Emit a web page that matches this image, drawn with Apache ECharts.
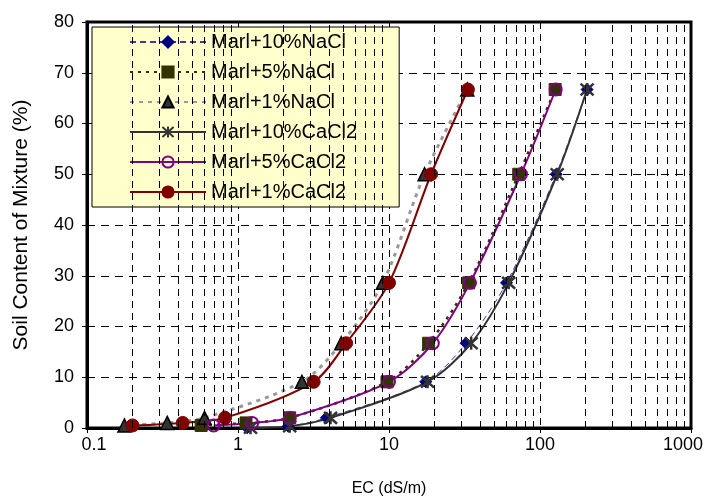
<!DOCTYPE html>
<html>
<head>
<meta charset="utf-8">
<script src="https://cdn.jsdelivr.net/npm/echarts@6/dist/echarts.min.js"></script>
<style>html,body{margin:0;padding:0;background:#fff;}#c{width:712px;height:502px;}</style>
</head>
<body>
<div id="c"></div>
<script>
const seriesNames = ['Marl+10%NaCl','Marl+5%NaCl','Marl+1%NaCl','Marl+10%CaCl2','Marl+5%CaCl2','Marl+1%CaCl2'];
const soilContent = [0.5, 1, 2, 9.1, 16.7, 28.6, 50, 66.7];
const soilContent10 = [0.05, 0.35, 2, 9.1, 16.7, 28.6, 50, 66.7];
const ecNaCl10 = [1.15, 2.15, 3.85, 17.5, 32.4, 60, 128, 205];
const ecNaCl5 = [0.57, 1.13, 2.2, 9.7, 18.3, 33.7, 72.3, 126];
const ecNaCl1 = [0.177, 0.34, 0.60, 2.65, 4.83, 9.1, 17.2, 33];
const ecCaCl10 = [1.21, 2.2, 4.1, 18, 35, 62, 130, 205];
const ecCaCl5 = [0.69, 1.24, 2.2, 10.0, 19.5, 34.4, 74.8, 127];
const ecCaCl1 = [0.2, 0.43, 0.82, 3.17, 5.2, 10.0, 19.0, 33.3];
const minorGridX = [0.2,0.3,0.4,0.5,0.6,0.7,0.8,0.9,2,3,4,5,6,7,8,9,20,30,40,50,60,70,80,90,200,300,400,500,600,700,800,900];

function pairs(xs, ys){ return xs.map((x,i)=>[x, ys[i]]); }

const asterisk = 'path://M5,0L5,10M0.5,0.5L9.5,9.5M9.5,0.5L0.5,9.5';
const font = 'Liberation Sans, Arial, sans-serif';

const chart = echarts.init(document.getElementById('c'), null, {renderer:'canvas'});
chart.setOption({
  animation: false,
  backgroundColor: '#fff',
  textStyle: {fontFamily: font},
  grid: {left: 87, right: 21, top: 22, bottom: 72, show: true, borderColor: '#000', borderWidth: 3, backgroundColor: 'transparent', containLabel: false},
  legend: {
    orient: 'vertical', left: 92, top: 27,
    backgroundColor: '#FFFFCC', borderColor: '#000', borderWidth: 1,
    padding: [5, 42, 5, 37],
    itemWidth: 76, itemHeight: 14, itemGap: 10,
    textStyle: {fontSize: 20, lineHeight: 20, color: '#000', fontFamily: font},
    data: seriesNames
  },
  xAxis: {
    type: 'log', logBase: 10, min: 0.1, max: 1000,
    name: 'EC (dS/m)', nameLocation: 'middle', nameGap: 53,
    nameTextStyle: {fontSize: 16, color: '#000', fontFamily: font},
    axisLine: {show: true, onZero: false, lineStyle: {color: '#000', width: 3}},
    axisTick: {show: true, length: 5, lineStyle: {color: '#000'}},
    axisLabel: {fontSize: 18, color: '#000', margin: 8,
      formatter: v => {
        const s = String(+v.toPrecision(6));
        if (Math.abs(v - 0.1) < 1e-9) return '{l|' + s + '}';
        if (Math.abs(v - 1000) < 1e-6) return '{r|' + s + '}';
        return s;
      },
      rich: {
        l: {fontSize: 18, color: '#000', fontFamily: font, padding: [0, 0, 0, 14]},
        r: {fontSize: 18, color: '#000', fontFamily: font, padding: [0, 16, 0, 0]}
      }},
    splitLine: {show: true, lineStyle: {color: '#000', type: [7,5], width: 1}},
    minorTick: {show: false}
  },
  yAxis: {
    type: 'value', min: 0, max: 80, interval: 10,
    name: 'Soil Content of Mixture (%)', nameLocation: 'middle', nameGap: 55,
    nameTextStyle: {fontSize: 21, color: '#000', fontFamily: font},
    axisLine: {show: true, lineStyle: {color: '#000', width: 3}},
    axisTick: {show: true, length: 5, lineStyle: {color: '#000'}},
    axisLabel: {fontSize: 18, color: '#000', margin: 13},
    splitLine: {show: true, lineStyle: {color: '#000', type: [8,6], width: 1}}
  },
  series: [
    {name: seriesNames[0], type: 'line', smooth: 0.3, data: pairs(ecNaCl10, soilContent10),
     symbol: 'diamond', symbolSize: 12,
     lineStyle: {color: '#3a3ab0', width: 1, type: [6,4]},
     itemStyle: {color: '#000080', borderColor: '#000080', borderWidth: 1},
     markLine: {silent: true, symbol: ['none','none'], label: {show: false}, animation: false,
       lineStyle: {color: '#000', type: [7,5], width: 1},
       data: minorGridX.map(v => ({xAxis: v}))}},
    {name: seriesNames[1], type: 'line', smooth: 0.3, data: pairs(ecNaCl5, soilContent),
     symbol: 'rect', symbolSize: 12,
     lineStyle: {color: '#333300', width: 2.5, type: [3,5]},
     itemStyle: {color: '#333300', borderColor: '#333300', borderWidth: 1}},
    {name: seriesNames[2], type: 'line', smooth: 0.3, data: pairs(ecNaCl1, soilContent),
     symbol: 'triangle', symbolSize: 13,
     lineStyle: {color: '#999999', width: 3, type: [4,5]},
     itemStyle: {color: '#333333', borderColor: '#000', borderWidth: 1.5}},
    {name: seriesNames[3], type: 'line', smooth: 0.3, data: pairs(ecCaCl10, soilContent10),
     symbol: asterisk, symbolSize: 13,
     lineStyle: {color: '#333333', width: 2},
     itemStyle: {color: '#333333', borderColor: '#333333', borderWidth: 2.5}},
    {name: seriesNames[4], type: 'line', smooth: 0.3, data: pairs(ecCaCl5, soilContent),
     symbol: 'circle', symbolSize: 12,
     lineStyle: {color: '#800080', width: 2},
     itemStyle: {color: 'rgba(255,255,255,0)', borderColor: '#800080', borderWidth: 2}},
    {name: seriesNames[5], type: 'line', smooth: 0.3, data: pairs(ecCaCl1, soilContent),
     symbol: 'circle', symbolSize: 13,
     lineStyle: {color: '#800000', width: 2},
     itemStyle: {color: '#800000', borderColor: '#800000', borderWidth: 1}}
  ]
});
</script>
</body>
</html>
